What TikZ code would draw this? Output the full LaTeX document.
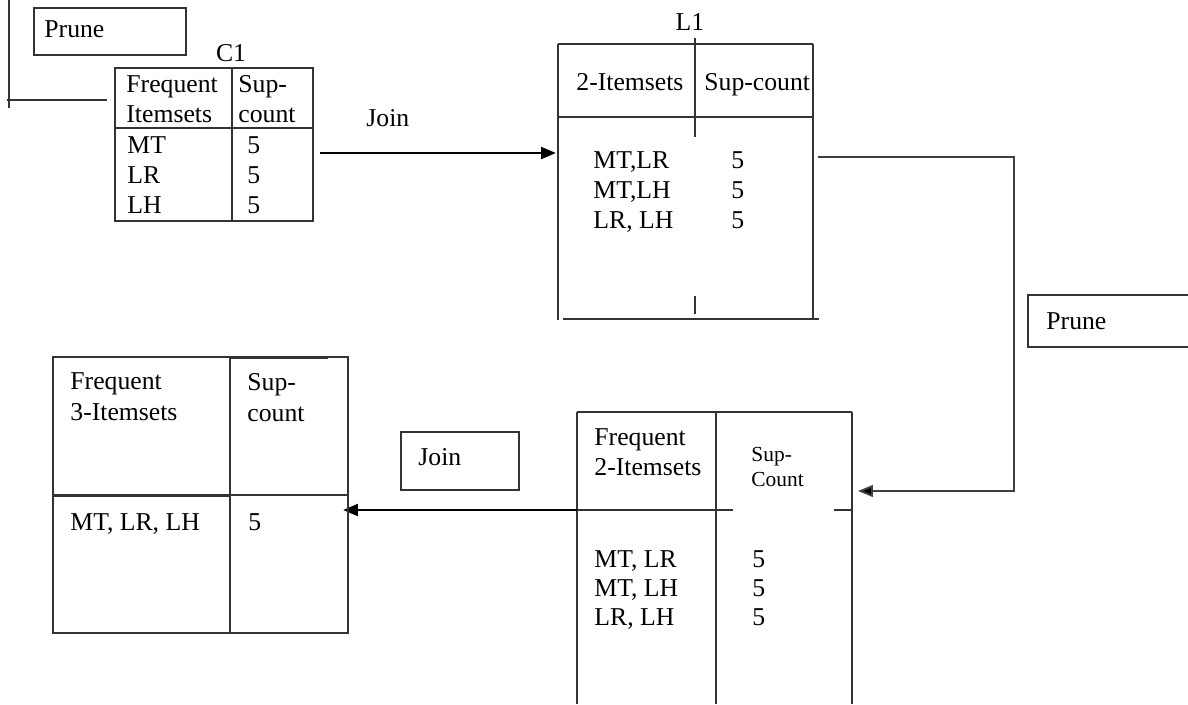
\documentclass[tikz,border=0pt]{standalone}
\usepackage{fontspec}
\setmainfont{Liberation Serif}
\usetikzlibrary{arrows.meta}

\tikzset{
	txt/.style={anchor=base west,inner sep=0pt,font=\fontsize{12}{14}\selectfont},
	smalltxt/.style={anchor=base west,inner sep=0pt,font=\fontsize{10}{12}\selectfont},
	rule/.style={draw=black!80,line width=0.8pt},
	joinarrow/.style={draw=black,line width=1.3pt,-{Triangle[length=7pt,width=5.5pt]}},
	prunearrow/.style={draw=black!75,line width=0.9pt,-{Triangle[length=7pt,width=5.5pt,fill=black]}}
}

\begin{document}
\begin{tikzpicture}[x=0.467pt,y=-0.467pt]
				\useasboundingbox (0,0) rectangle (1188,704);
				
				\coordinate (p1) at (9,0);
				\coordinate (p2) at (9,108);
				\coordinate (p3) at (7,100);
				\coordinate (p4) at (107,100);
				\coordinate (j1) at (320,153);
				\coordinate (j2) at (556,153);
				\coordinate (q1) at (818,157);
				\coordinate (q2) at (1014,157);
				\coordinate (q3) at (1014,491);
				\coordinate (q4) at (858,491);
				\coordinate (k1) at (577,510);
				\coordinate (k2) at (343,510);
				
				\draw [rule] (34,8) rectangle (186,55);
				\node [txt] (prune1) at (44,37) {Prune};
				\draw [rule] (p1) -- (p2);
				\draw [rule] (p3) -- (p4);
				
				\node [txt,anchor=base] (c1) at (231,61) {C1};
				\draw [rule] (115,68) rectangle (313,221);
				\draw [rule] (232,68) -- (232,221);
				\draw [rule] (115,128) -- (313,128);
				\node [txt] (c1h1) at (126,92) {Frequent};
				\node [txt] (c1h2) at (126,122) {Itemsets};
				\node [txt] (c1h3) at (238,92) {Sup-};
				\node [txt] (c1h4) at (238,122) {count};
				\node [txt] (c1r1) at (127,153) {MT};
				\node [txt] (c1r2) at (127,183) {LR};
				\node [txt] (c1r3) at (127,213) {LH};
				\node [txt] (c1s1) at (247,153) {5};
				\node [txt] (c1s2) at (247,183) {5};
				\node [txt] (c1s3) at (247,213) {5};
				
				\node [txt] (join1) at (366,126) {Join};
				\draw [joinarrow] (j1) -- (j2);
				
				\node [txt,anchor=base] (l1) at (690,30) {L1};
				\draw [rule] (558,44) -- (813,44);
				\draw [rule] (558,44) -- (558,320);
				\draw [rule] (813,44) -- (813,319);
				\draw [rule] (563,319) -- (819,319);
				\draw [rule] (558,117) -- (813,117);
				\draw [rule] (695,38) -- (695,137);
				\draw [rule] (695,296) -- (695,314);
				\node [txt] (l1h1) at (576,90) {2-Itemsets};
				\node [txt] (l1h2) at (704,90) {Sup-count};
				\node [txt] (l1r1) at (593,168) {MT,LR};
				\node [txt] (l1r2) at (593,198) {MT,LH};
				\node [txt] (l1r3) at (593,228) {LR, LH};
				\node [txt] (l1s1) at (731,168) {5};
				\node [txt] (l1s2) at (731,198) {5};
				\node [txt] (l1s3) at (731,228) {5};
				
				\draw [prunearrow] (q1) -- (q2) -- (q3) -- (q4);
				\draw [rule] (1200,295) -- (1028,295) -- (1028,347) -- (1200,347);
				\node [txt] (prune2) at (1046,329) {Prune};
				
				\draw [rule] (577,412) -- (852,412);
				\draw [rule] (577,412) -- (577,704);
				\draw [rule] (716,412) -- (716,704);
				\draw [rule] (852,412) -- (852,704);
				\draw [rule] (577,510) -- (733,510);
				\draw [rule] (834,510) -- (852,510);
				\node [txt] (f2h1) at (594,445) {Frequent};
				\node [txt] (f2h2) at (594,475) {2-Itemsets};
				\node [smalltxt] (f2h3) at (751,461) {Sup-};
				\node [smalltxt] (f2h4) at (751,486) {Count};
				\node [txt] (f2r1) at (594,567) {MT, LR};
				\node [txt] (f2r2) at (594,596) {MT, LH};
				\node [txt] (f2r3) at (594,625) {LR, LH};
				\node [txt] (f2s1) at (752,567) {5};
				\node [txt] (f2s2) at (752,596) {5};
				\node [txt] (f2s3) at (752,625) {5};
				
				\draw [rule] (401,432) rectangle (519,490);
				\node [txt] (join2) at (418,465) {Join};
				\draw [joinarrow] (k1) -- (k2);
				
				\draw [rule] (53,357) rectangle (348,633);
				\draw [rule] (230,357) -- (230,633);
				\draw [rule] (53,495) -- (348,495);
				\draw [rule,line width=1.4pt] (53,495) -- (230,495);
				\draw [rule,line width=1.4pt] (230,357) -- (328,357);
				\node [txt] (f3h1) at (70,389) {Frequent};
				\node [txt] (f3h2) at (70,420) {3-Itemsets};
				\node [txt] (f3h3) at (247,390) {Sup-};
				\node [txt] (f3h4) at (247,421) {count};
				\node [txt] (f3r1) at (70,530) {MT, LR, LH};
				\node [txt] (f3s1) at (248,530) {5};
\end{tikzpicture}
\end{document}
